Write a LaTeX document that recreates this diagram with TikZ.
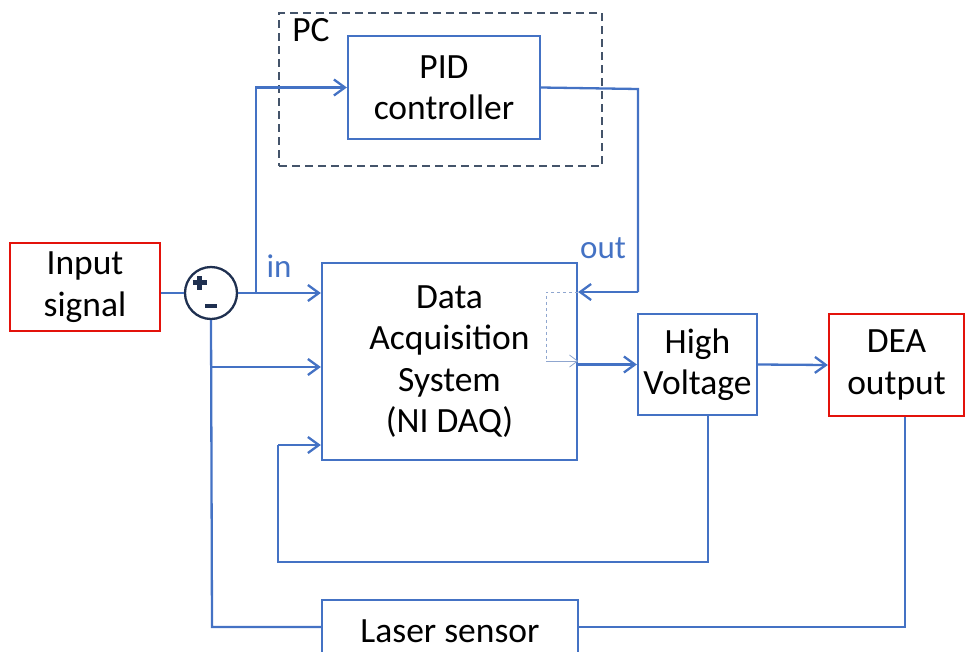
\documentclass[tikz,border=0pt]{standalone}
\usepackage{fontspec}
\setmainfont{Carlito}
\usetikzlibrary{arrows.meta,calc}
\definecolor{lblue}{HTML}{4472C4}
\definecolor{dred}{HTML}{E3120B}
\definecolor{navy}{HTML}{1F3050}
\definecolor{slate}{HTML}{44546A}
\definecolor{faint}{HTML}{8FA6CF}
\begin{document}
\begin{tikzpicture}[x=1pt,y=-1pt,
  bigfont/.style={font=\fontsize{35.5}{41.5}\selectfont},
  blk/.style={draw=lblue, line width=2.3pt, fill=white, align=center, inner sep=0pt, bigfont, text=black},
  redblk/.style={blk, draw=dred},
  wire/.style={draw=lblue, line width=2.3pt},
  arr/.style={wire, -{Straight Barb[length=11pt,width=16pt,line width=2.3pt]}},
  sign/.style={draw=navy, line width=4.5pt},
  lbl/.style={text=lblue, font=\fontsize{33}{36}\selectfont, inner sep=0pt}]
\useasboundingbox (0,0) rectangle (966,651);
\clip (0,0) rectangle (966,651);

% PC dashed frame
\node[draw=slate, line width=2.3pt, dash pattern=on 8pt off 5pt, minimum width=323pt, minimum height=153pt, inner sep=0pt] (pc) at (440.5,89.5) {};
\node[bigfont, inner sep=0pt] (pclbl) at (311,30) {PC};

% blocks
\node[blk, minimum width=192pt, minimum height=103pt] (pid) at (444,87.5) {PID\\controller};
\node[redblk, minimum width=150pt, minimum height=88pt] (inp) at (85,287) {Input\\signal};
\node[draw=navy, line width=2.3pt, circle, minimum size=52pt, inner sep=0pt] (sum) at (211,293) {};
\coordinate (plus) at (199.5,282.5);
\coordinate (minus) at (211,306);
\draw[sign] ([xshift=-7pt]plus) -- ([xshift=7pt]plus) ([yshift=-7pt]plus) -- ([yshift=7pt]plus);
\draw[sign, line width=3.8pt] ([xshift=-6pt]minus) -- ([xshift=6pt]minus);
\node[blk, minimum width=255pt, minimum height=197pt] (daq) at (449.5,361.5) {Data\\Acquisition\\System\\(NI DAQ)};
\node[blk, minimum width=119pt, minimum height=101pt] (hv) at (697.5,364.5) {High\\Voltage};
\node[redblk, minimum width=135pt, minimum height=102pt] (dea) at (896.5,365) {DEA\\output};
\node[blk, minimum width=256pt, minimum height=62pt] (laser) at (450,631) {Laser sensor};

% labels
\node[lbl] (inlbl) at (279,266) {in};
\node[lbl] (outlbl) at (603,248) {out};

% coordinates
\coordinate (j1) at (256,293);
\coordinate (pidr) at (638,89);
\coordinate (outc) at (638,292);
\coordinate (hvb) at (708,415);
\coordinate (fb1) at (708,562);
\coordinate (fb2) at (278,562);
\coordinate (fb3) at (278,445);
\coordinate (j2) at (212,367);
\coordinate (lb) at (212,627);
\coordinate (rb) at (905,627);
\coordinate (dq1) at (546,292);
\coordinate (dq2) at (546,361);

% connectors
\draw[wire] (inp.east |- sum.west) -- (sum.west);
\draw[wire] (sum.east) -- (j1);
\draw[arr] (j1) -- (daq.west |- j1);
\draw[arr] (j1) -- (j1 |- pid.west) -- (pid.west);
\draw[wire] (pid.east) -- (pidr) -- (outc);
\draw[arr] (outc) -- (daq.east |- outc);
\draw[draw=faint, line width=0.8pt, dashed] (daq.east |- dq1) -- (dq1) -- (dq2);
\draw[draw=faint, line width=0.8pt, -{Straight Barb[length=8pt,width=12pt,line width=0.8pt]}] (dq2) -- (daq.east |- dq2);
\draw[arr] (daq.east |- hv.west) -- (hv.west);
\draw[arr] (hv.east) -- (dea.west);
\draw[wire] (hvb) -- (fb1) -- (fb2) -- (fb3);
\draw[arr] (fb3) -- (daq.west |- fb3);
\draw[wire] (sum.south) -- (lb) -- (laser.west |- lb);
\draw[arr] (j2) -- (daq.west |- j2);
\draw[wire] (laser.east |- rb) -- (rb) -- (rb |- dea.south);
\end{tikzpicture}
\end{document}
